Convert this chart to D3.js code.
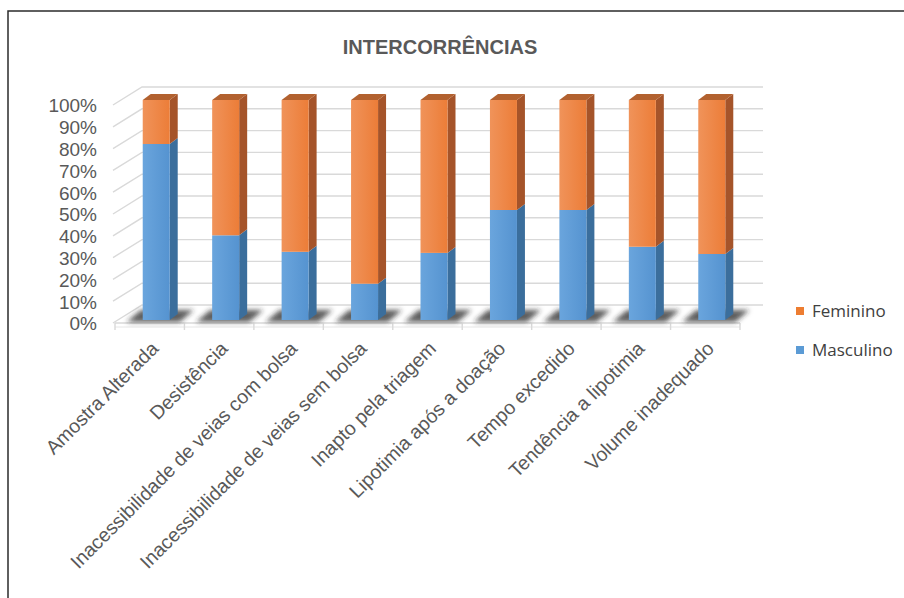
<!DOCTYPE html>
<html>
<head>
<meta charset="utf-8">
<script src="https://cdn.jsdelivr.net/npm/d3@7/dist/d3.min.js"></script>
<style>
  html, body { margin: 0; padding: 0; background: #fff; }
  svg { display: block; }
</style>
</head>
<body>
<script>
// Intercorrências por sexo (% de cada categoria)
const categories = [
  "Amostra Alterada",
  "Desistência",
  "Inacessibilidade de veias com bolsa",
  "Inacessibilidade de veias sem bolsa",
  "Inapto pela triagem",
  "Lipotimia após a doação",
  "Tempo excedido",
  "Tendência a lipotimia",
  "Volume inadequado"
];
const masculino = [80, 38.5, 31, 16.5, 30.5, 50, 50, 33.3, 30];
const feminino  = [20, 61.5, 69, 83.5, 69.5, 50, 50, 66.7, 70];
const seriesNames = ["Masculino", "Feminino"];
const yTicks = [0, 10, 20, 30, 40, 50, 60, 70, 80, 90, 100];
const title = "INTERCORRÊNCIAS";

const W = 904, H = 598;
const svg = d3.select("body").append("svg").attr("width", W).attr("height", H);

const defs = svg.append("defs");
function grad(id, c1, c2) {
  const g = defs.append("linearGradient").attr("id", id)
    .attr("x1", "0").attr("y1", "0").attr("x2", "1").attr("y2", "0");
  g.append("stop").attr("offset", "0").attr("stop-color", c1);
  g.append("stop").attr("offset", "1").attr("stop-color", c2);
}
grad("gFem", "#F0935A", "#EC7D38");
grad("gMas", "#6AA5DD", "#5593D0");
defs.append("filter").attr("id", "shadowBlur")
  .attr("x", "-50%").attr("y", "-50%").attr("width", "200%").attr("height", "200%")
  .append("feGaussianBlur").attr("stdDeviation", 2.5);

const colors = {
  Feminino:  { front: "url(#gFem)", side: "#A5542A", top: "#B2612F", legend: "#ED7D31" },
  Masculino: { front: "url(#gMas)", side: "#3B6E9C", top: "#4A7FB0", legend: "#5B9BD5" }
};

// Outer frame
svg.append("path").attr("d", `M8,${H} L8,11 L${W},11`)
  .attr("fill", "none").attr("stroke", "#2b2b2b").attr("stroke-width", 1.5);

// Title
svg.append("text").attr("x", 440).attr("y", 54).attr("text-anchor", "middle")
  .attr("font-family", "Liberation Sans, Arial, sans-serif").attr("font-weight", "bold")
  .attr("font-size", 20).attr("fill", "#595959").text(title);

// Geometry: front plane, back wall offset, bar depth
const x0 = 115, x1 = 740;
const wall = { dx: 27, dy: -18 };
const barDepth = { dx: 8, dy: -6 };
const x = d3.scaleBand().domain(categories).range([x0, x1]);
const yFront = d3.scaleLinear().domain([0, 100]).range([323, 105]);
const yBar = d3.scaleLinear().domain([0, 100]).range([320, 100]);

// Walls and gridlines
const gridCol = "#d9d9d9";
const grid = svg.append("g");
yTicks.forEach(t => {
  const yf = yFront(t);
  grid.append("path")
    .attr("d", `M${x0 - 2},${yf} L${x0 + wall.dx},${yf + wall.dy} L${x1 + wall.dx - 4},${yf + wall.dy}`)
    .attr("fill", "none").attr("stroke", gridCol).attr("stroke-width", 1.4);
});
// Floor
grid.append("path")
  .attr("d", `M${x0},${yFront(0)} L${x1},${yFront(0)}`)
  .attr("stroke", gridCol).attr("stroke-width", 1.4);
grid.append("path")
  .attr("d", `M${x0},${yFront(0) + 4} L${x1},${yFront(0) + 4}`)
  .attr("stroke", "#e6e6e6").attr("stroke-width", 1);
const bounds = categories.map(c => x(c)).concat([x1]);
bounds.forEach(b => {
  grid.append("line").attr("x1", b).attr("x2", b)
    .attr("y1", yFront(0)).attr("y2", yFront(0) + 7)
    .attr("stroke", gridCol).attr("stroke-width", 1.4);
});

// Y axis labels
const yAxis = d3.axisLeft(yFront).tickValues(yTicks).tickSize(0).tickPadding(0)
  .tickFormat(d => d + "%");
const ya = svg.append("g").attr("transform", "translate(97,0)").call(yAxis);
ya.select(".domain").remove();
ya.selectAll("text").attr("font-family", "Liberation Sans, Arial, sans-serif")
  .attr("font-size", 19).attr("fill", "#595959").attr("dy", "0.36em");

// Bars
const stack = d3.stack().keys(seriesNames)(categories.map((c, i) => ({
  cat: c, Masculino: masculino[i], Feminino: feminino[i]
})));
const bw = 27;
const barLeft = c => x(c) + x.bandwidth() / 2 - 7;

// floor shadows
const shadows = svg.append("g").attr("filter", "url(#shadowBlur)");
categories.forEach(c => {
  const l = barLeft(c) - 16, r = barLeft(c) + bw + 10, yb = yBar(0) + 2, yt = yBar(0) - 10;
  shadows.append("path")
    .attr("d", `M${l},${yb} L${r},${yb} L${r + 14},${yt} L${l + 14},${yt} Z`)
    .attr("fill", "#2a2a2a").attr("opacity", 0.75);
});

const bars = svg.append("g");
stack.forEach((layer, li) => {
  const col = colors[layer.key];
  layer.forEach(d => {
    const c = d.data.cat;
    const xl = barLeft(c), xr = xl + bw;
    const yt = yBar(d[1]), yb = yBar(d[0]);
    const g = bars.append("g");
    g.append("path")
      .attr("d", `M${xr},${yb} L${xr},${yt} L${xr + barDepth.dx},${yt + barDepth.dy} L${xr + barDepth.dx},${yb + barDepth.dy} Z`)
      .attr("fill", col.side);
    if (li === stack.length - 1) {
      g.append("path")
        .attr("d", `M${xl},${yt} L${xr},${yt} L${xr + barDepth.dx},${yt + barDepth.dy} L${xl + barDepth.dx},${yt + barDepth.dy} Z`)
        .attr("fill", col.top);
    }
    g.append("rect").attr("x", xl).attr("y", yt).attr("width", bw).attr("height", yb - yt)
      .attr("fill", col.front);
  });
});

// X labels
const xl = svg.append("g");
categories.forEach(c => {
  const cx = x(c) + x.bandwidth() / 2;
  xl.append("text")
    .attr("transform", `translate(${cx + 5},${345}) rotate(-45)`)
    .attr("text-anchor", "end").attr("dy", "0.35em")
    .attr("font-family", "Liberation Sans, Arial, sans-serif")
    .attr("font-size", 19.5).attr("fill", "#595959").text(c);
});

// Legend
const legend = svg.append("g");
[["Feminino", 311], ["Masculino", 350]].forEach(([name, cy]) => {
  legend.append("rect").attr("x", 796).attr("y", cy - 4).attr("width", 8).attr("height", 8)
    .attr("fill", colors[name].legend);
  legend.append("text").attr("x", 812).attr("y", cy).attr("dy", "0.35em")
    .attr("font-family", "Open Sans, Liberation Sans, sans-serif")
    .attr("font-size", 17).attr("fill", "#404040").text(name);
});
</script>
</body>
</html>
